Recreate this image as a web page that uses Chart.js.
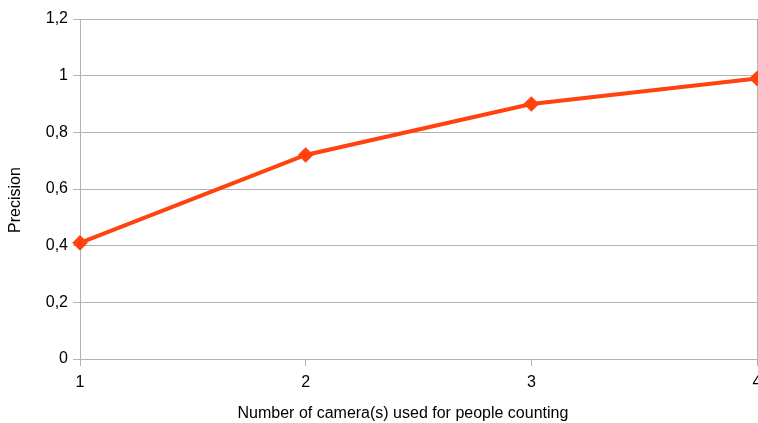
<!DOCTYPE html>
<html lang="en">
<head>
  <meta charset="UTF-8">
  <title>Precision vs number of cameras</title>
  <style>
    html, body { margin: 0; padding: 0; background: #fff; }
    .frame { position: absolute; left: 0; top: 0; width: 758px; height: 423px; overflow: hidden; }
  </style>
</head>
<body>
  <div class="frame">
    <canvas id="precisionChart" width="790" height="423"></canvas>
  </div>

  <script src="https://cdn.jsdelivr.net/npm/chart.js"></script>
  <script>
    // cameras used vs measured precision
    const cameras = [1, 2, 3, 4];
    const precision = [0.41, 0.72, 0.90, 0.99];
    const yTicks = [0, 0.2, 0.4, 0.6, 0.8, 1, 1.2];

    const gridGray = '#b3b3b3';
    const lineColor = '#ff420e';
    const font = { family: '"Liberation Sans", Arial, sans-serif', size: 16 };

    const points = cameras.map((c, i) => ({ x: c, y: precision[i] }));

    new Chart(document.getElementById('precisionChart'), {
      type: 'line',
      data: {
        datasets: [{
          label: 'Precision',
          data: points,
          borderColor: lineColor,
          backgroundColor: lineColor,
          borderWidth: 4,
          pointStyle: 'rectRot',
          pointRadius: 5,
          pointHoverRadius: 5,
          tension: 0,
          clip: false
        }]
      },
      options: {
        responsive: false,
        animation: false,
        layout: { padding: { top: 19, right: 33, left: 0, bottom: 0 } },
        plugins: { legend: { display: false }, tooltip: { enabled: false } },
        scales: {
          x: {
            type: 'linear',
            min: cameras[0],
            max: cameras[cameras.length - 1],
            afterBuildTicks: (scale) => { scale.ticks = cameras.map(v => ({ value: v })); },
            afterFit: (scale) => { scale.height = 64; },
            grid: {
              color: (ctx) => ctx.tick && ctx.tick.value === 4 ? gridGray : 'rgba(0,0,0,0)',
              tickColor: gridGray,
              tickLength: 7,
              lineWidth: 1
            },
            border: { color: gridGray },
            ticks: { color: '#000', font: font, padding: 7 },
            title: {
              display: true,
              // trailing spaces nudge the centred title a little to the left
              text: 'Number of camera(s) used for people counting       ',
              color: '#000',
              font: font,
              padding: { top: 10, bottom: 0 }
            }
          },
          y: {
            min: 0,
            max: 1.2,
            afterBuildTicks: (scale) => { scale.ticks = yTicks.map(v => ({ value: v })); },
            afterFit: (scale) => { scale.width = 80; },
            grid: { color: gridGray, tickColor: gridGray, tickLength: 7 },
            border: { color: gridGray },
            ticks: {
              color: '#000',
              font: font,
              padding: 5,
              callback: (v) => String(Math.round(v * 10) / 10).replace('.', ',')
            },
            title: {
              display: true,
              text: 'Precision     ',
              color: '#000',
              font: font,
              padding: { top: 6, bottom: 0 }
            }
          }
        }
      }
    });
  </script>
</body>
</html>
